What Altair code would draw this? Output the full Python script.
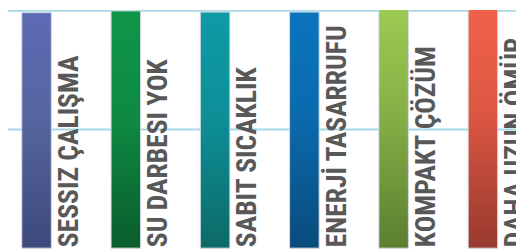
import altair as alt
import pandas as pd

categories = ["SESSIZ ÇALIŞMA", "SU DARBESI YOK", "SABIT SICAKLIK",
              "ENERJİ TASARRUFU", "KOMPAKT ÇÖZÜM", "DAHA UZUN ÖMÜR"]
values = [1.985, 2.0, 1.99, 1.99, 2.07, 2.07]
top_colors = ["#5c6bb5", "#0f9548", "#0d9ba6", "#0a74be", "#9dcc52", "#f2624b"]
mid_colors = ["#56659f", "#0e8a43", "#0d8f97", "#0a6aad", "#86b047", "#dd5743"]
bottom_colors = ["#3d497b", "#0a5d2c", "#0c6a67", "#0a4b7b", "#5b7f30", "#983a2e"]
grid_values = [1, 2]

df = pd.DataFrame({"idx": list(range(len(categories))), "cat": categories, "val": values})

xs = alt.Scale(domain=[-0.3198, 5.3705], nice=False, zero=False, padding=0)
ys = alt.Scale(domain=[-0.0166, 2.0083], nice=False, zero=False, padding=0)

layers = []
grid = alt.Chart(pd.DataFrame({"g": grid_values})).mark_rule(
    color="#a6d8e6", strokeWidth=2
).encode(y=alt.Y("g:Q", scale=ys, axis=None))
layers.append(grid)

for i, c in enumerate(categories):
    grad = alt.LinearGradient(
        gradient="linear", x1=0, y1=0, x2=0, y2=1,
        stops=[alt.GradientStop(offset=0, color=top_colors[i]),
               alt.GradientStop(offset=0.45, color=mid_colors[i]),
               alt.GradientStop(offset=1, color=bottom_colors[i])],
    )
    bar = alt.Chart(df).transform_filter(alt.datum.idx == i).mark_bar(
        color=grad, width=30, stroke="#d3d9e3", strokeWidth=1, clip=True
    ).encode(
        x=alt.X("idx:Q", scale=xs, axis=None),
        y=alt.Y("val:Q", scale=ys, axis=None),
        y2=alt.datum(0),
    )
    layers.append(bar)

text = alt.Chart(df).transform_calculate(zero="0").mark_text(
    angle=270, align="left", baseline="alphabetic", dy=42, dx=1,
    font="Roboto Condensed", fontWeight="bold", fontSize=28, color="#585858"
).encode(
    x=alt.X("idx:Q", scale=xs, axis=None),
    y=alt.Y("zero:Q", scale=ys, axis=None),
    text="cat:N",
)
layers.append(text)

chart = alt.layer(*layers).properties(
    width=516, height=244, padding=0, autosize="none"
).configure_view(stroke=None)

chart.save("out.html", embed_options={"renderer": "svg", "actions": False})
